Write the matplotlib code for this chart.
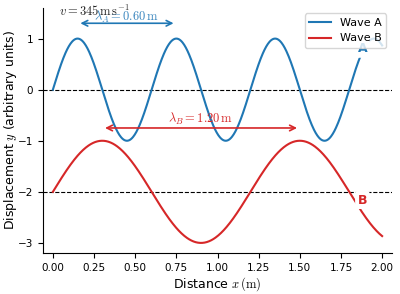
import numpy as np
import matplotlib.pyplot as plt

plt.rcParams['mathtext.fontset'] = 'cm'

# --- Wave parameters ---
wavelength_a = 0.60   # m
wavelength_b = 1.20   # m
amplitude_a = 1.0
amplitude_b = 1.0
offset_a = 0.0
offset_b = -2.0
speed = 345           # m/s
x_range = [0.0, 2.0]

x = np.linspace(x_range[0], x_range[1], 600)
y_a = offset_a + amplitude_a * np.sin(2 * np.pi * x / wavelength_a)
y_b = offset_b + amplitude_b * np.sin(2 * np.pi * x / wavelength_b)

blue = '#1f77b4'
red = '#d62728'

fig = plt.figure(figsize=(4.0, 2.94), dpi=100)
ax = fig.add_axes([0.1075, 0.139, 0.8725, 0.834])

ax.axhline(offset_a, color='black', linestyle='--', linewidth=0.8)
ax.axhline(offset_b, color='black', linestyle='--', linewidth=0.8)
ax.plot(x, y_a, color=blue, linewidth=1.5, label='Wave A')
ax.plot(x, y_b, color=red, linewidth=1.5, label='Wave B')

# wavelength arrows
qa = wavelength_a / 4
ax.annotate('', xy=(qa + wavelength_a, 1.3), xytext=(qa, 1.3),
            arrowprops=dict(arrowstyle='<->', color=blue, lw=1.2))
ax.text(qa + wavelength_a / 2, 1.43, r'$\lambda_A = 0.60\,\mathrm{m}$',
        color='#3a86be', ha='center', va='center', fontsize=9)
qb = wavelength_b / 4
ax.annotate('', xy=(qb + wavelength_b, -0.75), xytext=(qb, -0.75),
            arrowprops=dict(arrowstyle='<->', color=red, lw=1.2))
ax.text(qb + wavelength_b / 2, -0.58, r'$\lambda_B = 1.20\,\mathrm{m}$',
        color=red, ha='center', va='center', fontsize=9)

ax.text(0.04, 1.53, r'$v = %d\,\mathrm{m\,s^{-1}}$' % speed,
        ha='left', va='center', fontsize=9, color='#222222')

# curve labels
ax.text(1.88, 0.8, 'A', color=blue, fontsize=9, fontweight='bold',
        ha='center', va='center',
        bbox=dict(boxstyle='round,pad=0.2', fc='white', ec='none'))
ax.text(1.88, -2.16, 'B', color=red, fontsize=9, fontweight='bold',
        ha='center', va='center',
        bbox=dict(boxstyle='round,pad=0.2', fc='white', ec='none'))

ax.set_xlim(-0.06, 2.06)
ax.set_ylim(-3.2, 1.6)
ax.set_xticks(np.arange(0, 2.01, 0.25))
ax.set_yticks([-3, -2, -1, 0, 1])
ax.tick_params(labelsize=7.5)
ax.set_xlabel(r'Distance $x\,(\mathrm{m})$', fontsize=9, labelpad=2)
ax.set_ylabel(r'Displacement $y$ (arbitrary units)', fontsize=9)
ax.yaxis.set_label_coords(-0.07, 0.5)
ax.spines['top'].set_visible(False)
ax.spines['right'].set_visible(False)
ax.legend(loc='upper right', fontsize=8)

plt.savefig('out.png', dpi=100)
plt.close()
